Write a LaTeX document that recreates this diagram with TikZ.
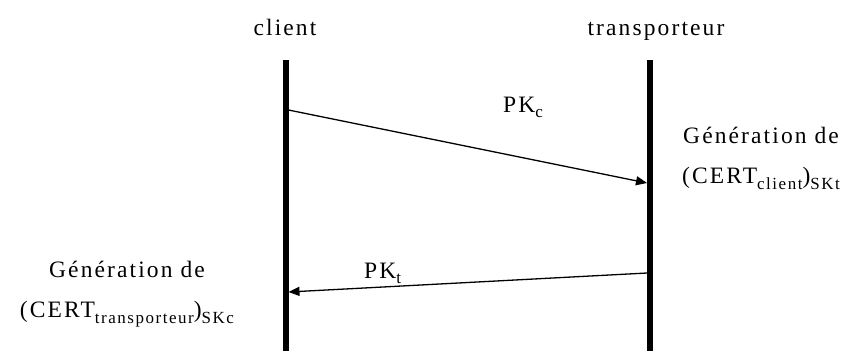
\documentclass[tikz,border=0pt]{standalone}
\usepackage{fontspec}
\setmainfont{Liberation Serif}[LetterSpace=9]
\usetikzlibrary{arrows.meta}

\newcommand{\sbs}[1]{\raisebox{-0.25em}{\fontsize{17}{17}\selectfont #1}}

\begin{document}
\begin{tikzpicture}[
        x=1pt, y=-1pt,
        lifeline/.style={line width=5.5pt},
        msg/.style={line width=1.3pt, -{Triangle[length=11pt, width=9pt]}},
        actor/.style={font=\fontsize{23.5}{28}\selectfont, inner sep=0pt},
        msg_label/.style={font=\fontsize{23.5}{28}\selectfont, inner sep=0pt},
        note/.style={font=\fontsize{23.5}{40}\selectfont, inner sep=0pt, align=center},
    ]
    \useasboundingbox (0,0) rectangle (858,351);

    % Actors and lifelines
    \node[actor, anchor=base] (client) at (285,35) {client};
    \node[actor, anchor=base] (transp) at (656,35) {transporteur};
    \coordinate (client_top) at (286,60);
    \coordinate (client_bot) at (286,351);
    \coordinate (transp_top) at (650,60);
    \coordinate (transp_bot) at (650,351);
    \draw[lifeline] (client_top) -- (client_bot);
    \draw[lifeline] (transp_top) -- (transp_bot);

    % Messages
    \coordinate (m1_from) at (288.5,110);
    \coordinate (m1_to) at (647,183);
    \coordinate (m2_from) at (647,273);
    \coordinate (m2_to) at (288.5,292);
    \draw[msg] (m1_from) -- (m1_to);
    \draw[msg] (m2_from) -- (m2_to);
    \node[msg_label, anchor=base west] (pkc) at (503,112) {PK\sbs{c}};
    \node[msg_label, anchor=base west] (pkt) at (364,278) {PK\sbs{t}};

    % Certificate generation
    \node[note, anchor=west] (gen_t) at (682,158) {G\'en\'eration de\\(CERT\sbs{client})\sbs{SKt}};
    \node[note] (gen_c) at (127,294) {G\'en\'eration de\\(CERT\sbs{transporteur})\sbs{SKc}};

\end{tikzpicture}
\end{document}
